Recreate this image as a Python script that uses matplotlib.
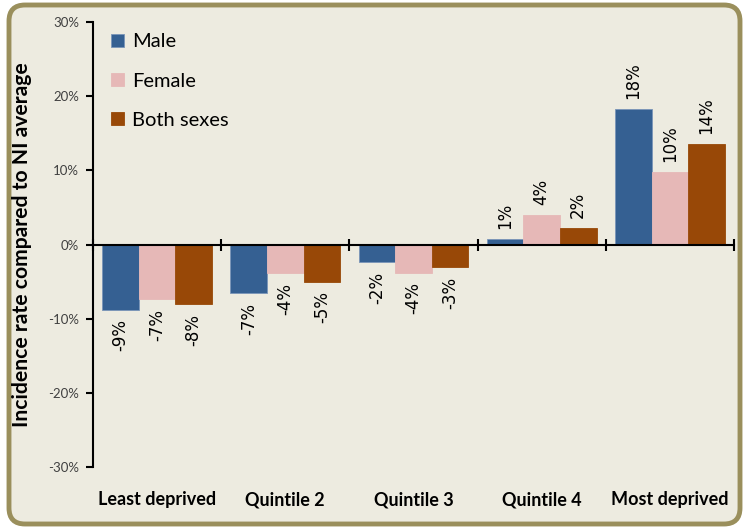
import numpy as np
import matplotlib
matplotlib.use("Agg")
import matplotlib.pyplot as plt
from matplotlib.patches import FancyBboxPatch
from matplotlib.transforms import IdentityTransform

categories = ["Least deprived", "Quintile 2", "Quintile 3", "Quintile 4", "Most deprived"]
male = [-8.8, -6.6, -2.4, 0.8, 18.3]
female = [-7.4, -3.9, -3.8, 4.0, 9.8]
both = [-8.0, -5.0, -3.0, 2.2, 13.6]
series_names = ["Male", "Female", "Both sexes"]
colors = ["#356092", "#E6B8B7", "#984807"]
yticks = [-30, -20, -10, 0, 10, 20, 30]

fig = plt.figure(figsize=(7.45, 5.28), dpi=100, facecolor="white")

# rounded panel behind the chart
box = FancyBboxPatch((9, 4), 731, 519, boxstyle="round,pad=0,rounding_size=16",
                     transform=IdentityTransform(), facecolor="#EDEBE0",
                     edgecolor="#9A8F5C", linewidth=3.5, zorder=-5)
fig.patches.append(box)

ax = fig.add_axes([93/745, 1-467/528, 641/745, 445/528])
ax.set_facecolor("none")

x = np.arange(len(categories))
w = 0.285
for i, (vals, name, c) in enumerate(zip([male, female, both], series_names, colors)):
    bars = ax.bar(x + (i-1)*w, vals, width=w, color=c, edgecolor="#7a95b8" if i == 0 else c,
                  linewidth=0.6, label=name)
    for rect, v in zip(bars, vals):
        xc = rect.get_x() + rect.get_width()/2
        off = 7 if v >= 0 else -7
        ax.annotate("{:.0f}%".format(v), xy=(xc, v), xytext=(0, off), textcoords="offset points",
                    rotation=90, ha="center", va="bottom" if v >= 0 else "top",
                    fontsize=12, family="DejaVu Sans", color="black")

ax.set_xlim(-0.5, len(categories)-0.5)
ax.set_ylim(-30, 30)
ax.set_yticks(yticks)
ax.set_yticklabels(["{}%".format(t) for t in yticks], family="Lato", fontsize=9.5, color="#404040")
ax.tick_params(axis="y", direction="out", length=5, width=1.5, pad=5)

ax.spines["top"].set_visible(False)
ax.spines["right"].set_visible(False)
ax.spines["left"].set_linewidth(1.5)
ax.spines["bottom"].set_position(("data", 0))
ax.spines["bottom"].set_linewidth(1.5)
ax.set_xticks(np.arange(len(categories)+1) - 0.5)
ax.tick_params(axis="x", direction="inout", length=9, width=1.5, labelbottom=False)

for xi, cat in zip(x, categories):
    ax.text(xi, -0.074, cat, transform=ax.get_xaxis_transform(), ha="center", va="center",
            family="Lato", fontweight="bold", fontsize=13, color="black")

ax.set_ylabel("Incidence rate compared to NI average", family="Lato", fontweight="bold",
              fontsize=15.2, color="black")
ax.yaxis.set_label_coords(-0.095, 0.5)

leg = ax.legend(loc="upper left", bbox_to_anchor=(0.012, 0.997), frameon=False,
                prop={"family": "Lato", "size": 14.5}, handlelength=0.65, handleheight=0.65,
                handletextpad=0.4, labelspacing=1.1, borderpad=0)

fig.savefig("out.png", dpi=100, facecolor="white")
